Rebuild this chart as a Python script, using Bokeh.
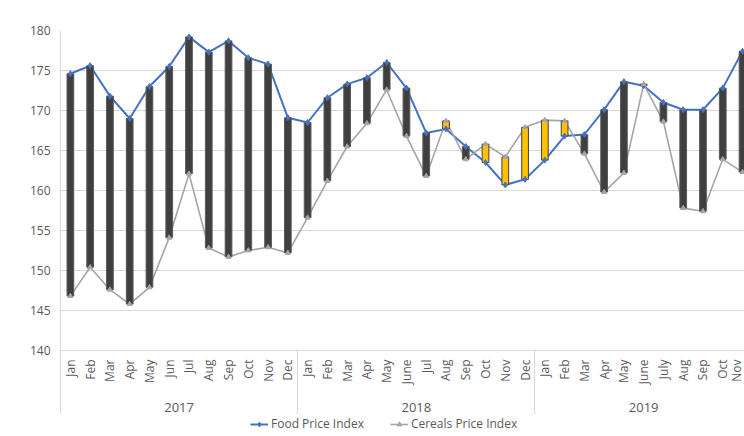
import numpy as np
from bokeh.plotting import figure
from bokeh.layouts import column
from bokeh.models import (Range1d, FixedTicker, LinearAxis, Legend, LegendItem,
                          ColumnDataSource)
from bokeh.embed import file_html
from bokeh.resources import INLINE

# ---- data -------------------------------------------------------------
years = ["2017"] * 12 + ["2018"] * 12 + ["2019"] * 11
months = ["Jan", "Feb", "Mar", "Apr", "May", "Jun", "Jul", "Aug", "Sep", "Oct", "Nov", "Dec",
          "Jan", "Feb", "Mar", "Apr", "May", "June", "Jul", "Aug", "Sep", "Oct", "Nov", "Dec",
          "Jan", "Feb", "Mar", "Apr", "May", "June", "July", "Aug", "Sep", "Oct", "Nov"]
food = [174.6, 175.6, 171.8, 169.0, 173.0, 175.5, 179.2, 177.3, 178.7, 176.6, 175.8, 169.1,
        168.5, 171.6, 173.3, 174.1, 176.0, 172.8, 167.2, 167.7, 165.5, 163.5, 160.7, 161.4,
        163.8, 166.8, 167.0, 170.1, 173.6, 173.1, 171.0, 170.1, 170.1, 172.8, 177.4]
cereals = [146.8, 150.4, 147.6, 145.8, 147.9, 154.1, 162.1, 152.8, 151.7, 152.5, 152.9, 152.2,
           156.6, 161.2, 165.5, 168.4, 172.6, 166.8, 161.8, 168.7, 163.9, 165.8, 164.2, 167.9,
           168.8, 168.7, 164.6, 159.8, 162.2, 173.3, 168.6, 157.8, 157.4, 163.9, 162.3]
year_labels = ["2017", "2018", "2019"]
series_names = ["Food Price Index", "Cereals Price Index"]
y_ticks = [140, 145, 150, 155, 160, 165, 170, 175, 180]

# ---- derived ----------------------------------------------------------
x = np.arange(len(months))
f = np.array(food)
c = np.array(cereals)
yrs = np.array(years)
up = c > f
bars = ColumnDataSource(dict(
    x=x, top=np.maximum(f, c), bottom=np.minimum(f, c),
    fill=np.where(up, "#FFC000", "#3F3F3F").tolist(),
    line=np.where(up, "#404040", "#5A5A5A").tolist()))
year_centers = [float(x[yrs == y].mean()) for y in year_labels]
year_bounds = [float(x[yrs == y].min()) - 0.5 for y in year_labels]

FONT = "Open Sans"
GRID = "#D9D9D9"
TXT = "#595959"
BLUE = "#4472C4"
GREY = "#A5A5A5"

p = figure(frame_width=684, frame_height=320,
           output_backend="svg", toolbar_location=None,
           x_range=Range1d(-0.5, 34.1), y_range=Range1d(140, 180),
           min_border_left=60, min_border_top=30, min_border_right=0, min_border_bottom=0)
p.outline_line_color = None
p.background_fill_color = "white"
p.border_fill_color = "white"

# lines
p.line(x, f, line_color=BLUE, line_width=2)
p.line(x, c, line_color=GREY, line_width=1.6)
# up / down bars
p.vbar(x="x", width=0.34, top="top", bottom="bottom", fill_color="fill",
       line_color="line", line_width=1, source=bars)
# markers
p.scatter(x, f, marker="diamond", size=6, color=BLUE)
p.scatter(x, c, marker="triangle", size=5, color=GREY)

# y axis
p.yaxis.ticker = FixedTicker(ticks=y_ticks)
p.yaxis.axis_line_color = GRID
p.yaxis.major_tick_out = 0
p.yaxis.major_tick_in = 0
p.yaxis.minor_tick_out = 0
p.yaxis.minor_tick_in = 0
p.yaxis.major_label_standoff = 10
p.yaxis.major_label_text_font = FONT
p.yaxis.major_label_text_font_size = "12px"
p.yaxis.major_label_text_color = TXT
p.ygrid.ticker = FixedTicker(ticks=y_ticks)
p.ygrid.grid_line_color = GRID
p.xgrid.grid_line_color = None

# month axis (minor ticks = year separators)
xa = p.xaxis[0]
xa.ticker = FixedTicker(ticks=[int(i) for i in x], minor_ticks=year_bounds)
xa.major_label_overrides = {int(i): m for i, m in zip(x, months)}
xa.major_label_orientation = np.pi / 2
xa.axis_line_color = GRID
xa.major_tick_out = 0
xa.major_tick_in = 0
xa.minor_tick_in = 0
xa.minor_tick_out = 66
xa.minor_tick_line_color = GRID
xa.major_label_standoff = -57
xa.major_label_text_font = FONT
xa.major_label_text_font_size = "12px"
xa.major_label_text_color = TXT

# year axis
ya = LinearAxis(ticker=FixedTicker(ticks=year_centers),
                major_label_overrides={c_: y for c_, y in zip(year_centers, year_labels)})
ya.axis_line_color = None
ya.major_tick_out = 0
ya.major_tick_in = 0
ya.minor_tick_out = 0
ya.minor_tick_in = 0
ya.major_label_standoff = 15
ya.major_label_text_font = FONT
ya.major_label_text_font_size = "13px"
ya.major_label_text_color = TXT
p.add_layout(ya, "below")

# ---- legend strip (separate small figure; series drawn out of view) ----
lf = figure(width=744, height=18, output_backend="svg", toolbar_location=None,
            x_range=Range1d(-100, -99), y_range=Range1d(0, 1),
            x_axis_location=None, y_axis_location=None,
            min_border_left=0, min_border_right=0, min_border_top=0, min_border_bottom=0)
lf.outline_line_color = None
lf.grid.grid_line_color = None
lf.border_fill_color = "white"
r1 = lf.line(x, f, line_color=BLUE, line_width=2)
r2 = lf.scatter(x, f, marker="diamond", size=6, color=BLUE)
r3 = lf.line(x, c, line_color=GREY, line_width=1.6)
r4 = lf.scatter(x, c, marker="triangle", size=5, color=GREY)
legend = Legend(items=[LegendItem(label=series_names[0], renderers=[r1, r2]),
                       LegendItem(label=series_names[1], renderers=[r3, r4])],
                orientation="horizontal", location=(190, 0))
legend.border_line_color = None
legend.background_fill_alpha = 0
legend.label_text_font = FONT
legend.label_text_font_size = "12px"
legend.label_text_color = TXT
legend.glyph_width = 18
legend.glyph_height = 12
legend.label_standoff = 3
legend.spacing = 26
legend.padding = 0
legend.margin = 0
lf.add_layout(legend, "center")

open("out.html", "w").write(file_html(column(p, lf, spacing=0), INLINE))
